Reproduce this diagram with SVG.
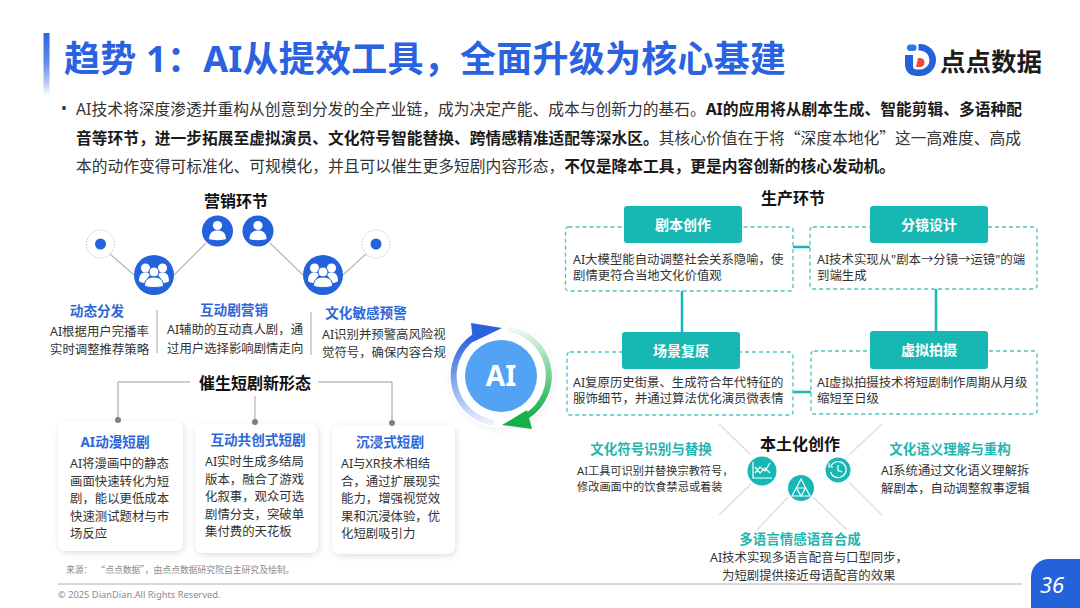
<svg xmlns="http://www.w3.org/2000/svg" width="1080" height="608" viewBox="0 0 1080 608">
<style>
text{font-family:"Noto Sans","Noto Sans CJK SC",sans-serif;fill:#333}
.t{font-size:12.4px}
.b{font-weight:700}
.q{font-family:"Noto Sans CJK SC",sans-serif}
.body{font-size:15.75px;fill:#333}
.h{font-size:16px;font-weight:700;fill:#111;text-anchor:middle}
.bl{font-size:13.6px;font-weight:700;fill:#2d66d8;text-anchor:middle}
.tl{font-size:13.5px;font-weight:700;fill:#1fb5b2;text-anchor:middle}
.hd{font-size:14px;font-weight:700;fill:#fff;text-anchor:middle}
.box{fill:#fff;stroke:#4cc4c1;stroke-width:1.3;stroke-dasharray:4 3}
.hb{fill:#17b7b4}
.con{fill:none;stroke:#17b7b4;stroke-width:2.5}
.gl{fill:none;stroke:#b5b5b5;stroke-width:1.2}
.gr{fill:none;stroke:#9a9a9a;stroke-width:1}
.ll{fill:none;stroke:#dcdcdc;stroke-width:1.2}
.card{fill:#fff;filter:url(#sh)}
.w{fill:#fff}
.ws{fill:none;stroke:#fff;stroke-width:1.2}
</style>
<defs>
<linearGradient id="bar" x1="0" y1="0" x2="0" y2="1"><stop offset="0" stop-color="#2a62e0"/><stop offset=".45" stop-color="#5f8ae8"/><stop offset="1" stop-color="#2a62e0" stop-opacity="0"/></linearGradient>
<linearGradient id="ab" gradientUnits="userSpaceOnUse" x1="490" y1="424" x2="473" y2="335"><stop offset="0" stop-color="#2a62e0" stop-opacity=".08"/><stop offset="1" stop-color="#2a62e0"/></linearGradient>
<linearGradient id="ag" gradientUnits="userSpaceOnUse" x1="510" y1="328" x2="525" y2="418"><stop offset="0" stop-color="#16b04a" stop-opacity=".05"/><stop offset="1" stop-color="#16b04a"/></linearGradient>
<filter id="sh" x="-15%" y="-15%" width="130%" height="130%"><feDropShadow dx="1" dy="2" stdDeviation="3" flood-color="#000" flood-opacity=".13"/></filter>
<g id="person"><circle cx="0" cy="-5.5" r="4.6" class="w"/><path class="w" d="M-8.5 8C-8.5 2 -5 -0.5 0 -0.5S8.5 2 8.5 8C6 9.5 -6 9.5 -8.5 8Z"/></g>
<g id="crowd"><circle cx="-8.5" cy="-7" r="4.6" class="w"/><circle cx="8.5" cy="-7" r="4.6" class="w"/><path class="w" d="M-15 6C-15 -1 -12 -2.5 -8 -2.5C-5 -2.5 -4 -1 -4 0C-7 3 -8 6 -8 8C-11 8 -14 7.5 -15 6Z"/><path class="w" d="M15 6C15 -1 12 -2.5 8 -2.5C5 -2.5 4 -1 4 0C7 3 8 6 8 8C11 8 14 7.5 15 6Z"/><circle cx="0" cy="-3" r="5" fill="#fff" stroke="#2462dc" stroke-width="1"/><path d="M-9.5 11C-9.5 5 -6 2 0 2S9.5 5 9.5 11C6 13 -6 13 -9.5 11Z" fill="#fff" stroke="#2462dc" stroke-width="1"/></g>
</defs>
<rect width="1080" height="608" fill="#fff"/>

<g id="header">
<rect x="43.5" y="33" width="6" height="62" fill="url(#bar)"/>
<text x="64" y="72" font-size="36" font-weight="700" textLength="722" style="fill:#2a62e0">趋势 1：AI从提效工具，全面升级为核心基建</text>
</g>
<g id="logo">
<path d="M905 55H913V66A3.5 3.5 0 0 0 916.500 69.500H920A9.500 9.500 0 0 0 920 50.500H918.500V44H920A16 16 0 0 1 920 76H916A11 11 0 0 1 905 66Z" fill="#2462dc"/>
<rect x="907" y="44.500" width="9.500" height="6.500" rx="3" fill="#2e78e6"/>
<path d="M918 58H920A4.500 4.500 0 0 1 920 67H916Z" fill="#ee4a3c"/>
<text x="940" y="71" font-size="25.5" font-weight="700" style="fill:#1d1d1d">点点数据</text>
</g>
<g id="intro">
<text x="61" y="114" class="body">•</text>
<text x="76" y="115" class="body">AI技术将深度渗透并重构从创意到分发的全产业链，成为决定产能、成本与创新力的基石。<tspan class="b" style="fill:#1a1a1a">AI的应用将从剧本生成、智能剪辑、多语种配</tspan></text>
<text x="76" y="144" class="body"><tspan class="b" style="fill:#1a1a1a">音等环节，进一步拓展至虚拟演员、文化符号智能替换、跨情感精准适配等深水区。</tspan>其核心价值在于将<tspan class="q">“</tspan>深度本地化<tspan class="q">”</tspan>这一高难度、高成</text>
<text x="76" y="172" class="body">本的动作变得可标准化、可规模化，并且可以催生更多短剧内容形态，<tspan class="b" style="fill:#1a1a1a">不仅是降本工具，更是内容创新的核心发动机。</tspan></text>
</g>

<g id="connectors">
<path class="gl" d="M110 254L134 275M174 275L206 243M270 243L303 275M343 275L367 253"/>
<path class="gl" d="M157 310V353M311 312V355"/>
<path class="gr" d="M118 420V382H190M318 382H392V423"/>
<path class="gl" d="M255 396V422"/>
<path class="ll" d="M719 424L751 455M751 484L719 515M849 455L882 424M849 482L882 515M788 497L757 530M813 497L847 530"/>
<path class="con" d="M793 247H810M682 291V332M936 289V331M793 392H811"/>
</g>

<g id="marketing">
<text x="236" y="207" class="h">营销环节</text>
<g id="dot1"><circle cx="100.5" cy="244" r="14" fill="#fff" stroke="#b9c3d6" stroke-width="1" stroke-dasharray="1.5 1.5"/><circle cx="100.5" cy="244" r="5.5" fill="#2462dc"/></g>
<g id="dot2"><circle cx="376" cy="244" r="14" fill="#fff" stroke="#c4c9d4" stroke-width="1" stroke-dasharray="1.5 1.5"/><circle cx="376" cy="244" r="5.5" fill="#2462dc"/></g>
<g id="crowd1"><circle cx="154" cy="275" r="20" fill="#2462dc"/><use href="#crowd" x="154" y="275"/></g>
<g id="crowd2"><circle cx="323" cy="275" r="20" fill="#2462dc"/><use href="#crowd" x="323" y="275"/></g>
<g id="person1"><circle cx="217.5" cy="231" r="15.5" fill="#2462dc"/><use href="#person" x="217.5" y="231"/></g>
<g id="person2"><circle cx="258" cy="231" r="15.5" fill="#2462dc"/><use href="#person" x="258" y="231"/></g>
<g id="m1"><text x="97" y="316" class="bl">动态分发</text><text x="50" y="336" class="t">AI根据用户完播率</text><text x="50" y="354" class="t">实时调整推荐策略</text></g>
<g id="m2"><text x="234" y="315" class="bl">互动剧营销</text><text x="167" y="334" class="t">AI辅助的互动真人剧，通</text><text x="167" y="353" class="t">过用户选择影响剧情走向</text></g>
<g id="m3"><text x="366" y="318" class="bl">文化敏感预警</text><text x="322" y="339" class="t">AI识别并预警高风险视</text><text x="322" y="357" class="t">觉符号，确保内容合规</text></g>
</g>

<g id="forms">
<text x="255" y="389" class="h">催生短剧新形态</text>
<g id="card1"><rect x="58" y="421" width="125" height="130" rx="8" class="card"/><text x="115" y="447" class="bl">AI动漫短剧</text>
<text x="70" y="468" class="t">AI将漫画中的静态</text><text x="70" y="485.5" class="t">画面快速转化为短</text><text x="70" y="503" class="t">剧，能以更低成本</text><text x="70" y="520.5" class="t">快速测试题材与市</text><text x="70" y="538" class="t">场反应</text></g>
<g id="card2"><rect x="195" y="424" width="123" height="129" rx="8" class="card"/><text x="258" y="445" class="bl">互动共创式短剧</text>
<text x="205" y="466" class="t">AI实时生成多结局</text><text x="205" y="484" class="t">版本，融合了游戏</text><text x="205" y="501" class="t">化叙事，观众可选</text><text x="205" y="519" class="t">剧情分支，突破单</text><text x="205" y="536" class="t">集付费的天花板</text></g>
<g id="card3"><rect x="332" y="425" width="123" height="129" rx="8" class="card"/><text x="390" y="447" class="bl">沉浸式短剧</text>
<text x="341" y="468" class="t">AI与XR技术相结</text><text x="341" y="486" class="t">合，通过扩展现实</text><text x="341" y="503" class="t">能力，增强视觉效</text><text x="341" y="521" class="t">果和沉浸体验，优</text><text x="341" y="538" class="t">化短剧吸引力</text></g>
<circle cx="118" cy="420" r="3" fill="#808080"/><circle cx="255" cy="422" r="3" fill="#808080"/><circle cx="392" cy="423" r="3" fill="#808080"/>
</g>

<g id="ai">
<circle cx="501" cy="376" r="52" fill="#fff" filter="url(#sh)" opacity=".5"/>
<path d="M494 423A47.5 47.5 0 0 1 474 337" fill="none" stroke="url(#ab)" stroke-width="6"/>
<path d="M471 323L502 328L473 342Z" fill="#2a62e0"/>
<path d="M508 329A47.5 47.5 0 0 1 527 416" fill="none" stroke="url(#ag)" stroke-width="6"/>
<path d="M502 425L532 429L527 410Z" fill="#16b04a"/>
<circle cx="501" cy="376" r="36" fill="#52a3f3"/>
<text x="501" y="386" font-size="28" font-weight="700" text-anchor="middle" style="fill:#fff">AI</text>
</g>

<g id="production">
<text x="793" y="204" class="h">生产环节</text>
<g id="p1"><rect x="565.5" y="227" width="227.500" height="64" rx="3" class="box"/><rect x="624" y="206" width="118" height="37" rx="3" class="hb"/><text x="683" y="230" class="hd">剧本创作</text><text x="573" y="264" class="t">AI大模型能自动调整社会关系隐喻，使</text><text x="573" y="280" class="t">剧情更符合当地文化价值观</text></g>
<g id="p2"><rect x="810" y="227" width="227" height="62" rx="3" class="box"/><rect x="870" y="206" width="118" height="37" rx="3" class="hb"/><text x="929" y="230" class="hd">分镜设计</text><text x="817" y="264" class="t">AI技术实现从"剧本→分镜→运镜"的端</text><text x="817" y="280" class="t">到端生成</text></g>
<g id="p3"><rect x="567" y="352" width="226" height="63" rx="3" class="box"/><rect x="622" y="332" width="118" height="37" rx="3" class="hb"/><text x="681" y="356" class="hd">场景复原</text><text x="573" y="387" class="t">AI复原历史街景、生成符合年代特征的</text><text x="573" y="403" class="t">服饰细节，并通过算法优化演员微表情</text></g>
<g id="p4"><rect x="811" y="351" width="226" height="63" rx="3" class="box"/><rect x="870" y="331" width="118" height="38" rx="3" class="hb"/><text x="929" y="355" class="hd">虚拟拍摄</text><text x="817" y="387" class="t">AI虚拟拍摄技术将短剧制作周期从月级</text><text x="817" y="403" class="t">缩短至日级</text></g>
</g>

<g id="localisation">
<text x="800" y="450" class="h">本土化创作</text>
<g id="i1"><circle cx="762" cy="471" r="14.5" fill="#17b7b4"/><path class="ws" d="M753 462V478H772M755 473L760 467L765 471L770 463M755 467L760 473L765 468L770 473"/></g>
<g id="i2"><circle cx="838" cy="470" r="12.5" fill="#17b7b4"/><path class="ws" d="M831 466A8 8 0 1 1 830.500 472M838 465V470.500L842 472M829 463V467H833"/></g>
<g id="i3"><circle cx="801" cy="488" r="13" fill="#17b7b4"/><path class="ws" d="M801 479L810 496H792ZM796.500 488H805.500L801 496Z"/></g>
<g id="l1"><text x="651" y="454" class="tl">文化符号识别与替换</text><text x="577" y="475" style="font-size:11.2px">AI工具可识别并替换宗教符号，</text><text x="577" y="491" style="font-size:11.2px">修改画面中的饮食禁忌或着装</text></g>
<g id="l2"><text x="950" y="454" class="tl">文化语义理解与重构</text><text x="881" y="475" class="t">AI系统通过文化语义理解拆</text><text x="881" y="493" class="t">解剧本，自动调整叙事逻辑</text></g>
<g id="l3"><text x="800" y="544" class="tl">多语言情感语音合成</text><text x="710" y="562" class="t">AI技术实现多语言配音与口型同步，</text><text x="722" y="580" class="t">为短剧提供接近母语配音的效果</text></g>
</g>

<g id="footer">
<text x="66" y="573" style="font-size:8.8px;fill:#8a8a8a" class="q" xml:space="preserve">来源：  <tspan class="q">“</tspan>点点数据<tspan class="q">”</tspan>，由点点数据研究院自主研究及绘制。</text>
<path d="M58 584H1022" stroke="#b0b0b0" stroke-width="1"/>
<text x="58" y="598" style="font-size:9.3px;fill:#8a8a8a">© 2025 DianDian.All Rights Reserved.</text>
<path d="M1031 608V577A18 18 0 0 1 1049 559H1080V608Z" fill="#2462dc"/>
<text x="1040" y="593" font-size="22" font-style="italic" style="fill:#fff">36</text>
</g>
</svg>
